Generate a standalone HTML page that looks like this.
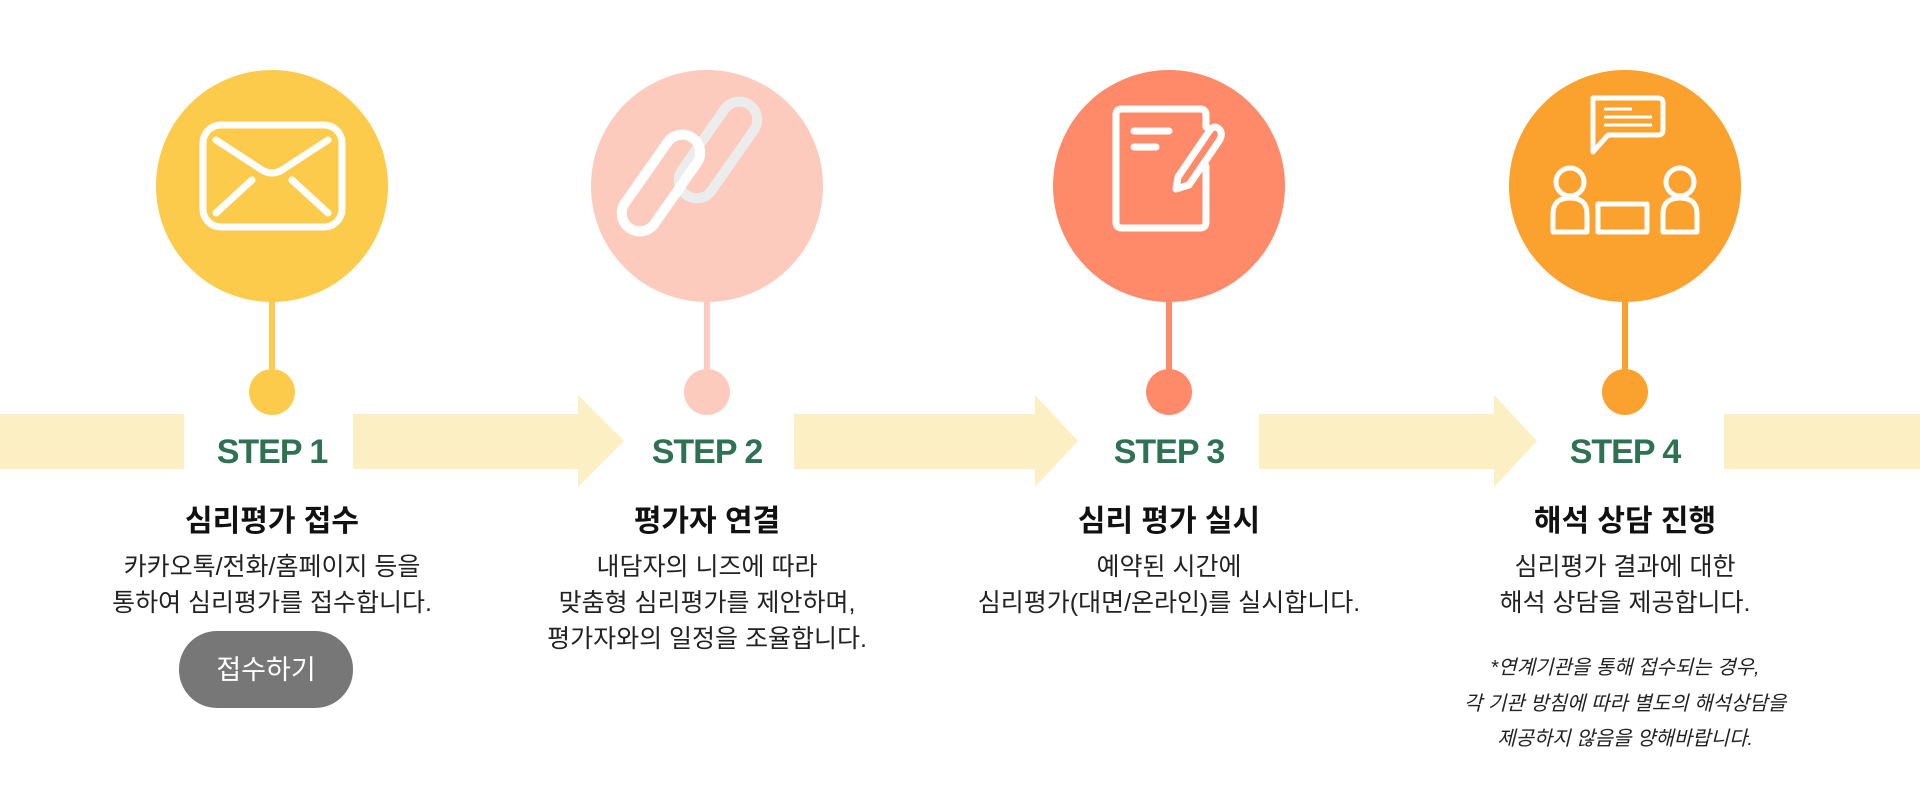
<!DOCTYPE html>
<html><head><meta charset="utf-8"><style>
html,body{margin:0;padding:0;background:#fff;}
svg{display:block;}
text{font-family:"Liberation Sans","Noto Sans CJK KR",sans-serif;}
</style></head><body>
<svg width="1920" height="797" viewBox="0 0 1920 797" xmlns="http://www.w3.org/2000/svg">
<g fill="#fdefc4">
<rect x="0" y="414" width="184" height="55"/>
<polygon points="353,414 578,414 578,395 624,441 578,487 578,469 353,469"/>
<polygon points="794,414 1035,414 1035,395 1078,441 1035,487 1035,469 794,469"/>
<polygon points="1259,414 1494,414 1494,395 1537,441 1494,487 1494,469 1259,469"/>
<rect x="1724" y="414" width="196" height="55"/>
</g>
<g>
<rect x="269" y="290" width="6" height="100" fill="#fdcb4b"/><circle cx="272" cy="392" r="23" fill="#fdcb4b"/><circle cx="272" cy="186" r="116" fill="#fdcb4b"/>
<rect x="704" y="290" width="6" height="100" fill="#fccbbd"/><circle cx="707" cy="392" r="23" fill="#fccbbd"/><circle cx="707" cy="186" r="116" fill="#fccbbd"/>
<rect x="1166" y="290" width="6" height="100" fill="#fe8a6a"/><circle cx="1169" cy="392" r="23" fill="#fe8a6a"/><circle cx="1169" cy="186" r="116" fill="#fe8a6a"/>
<rect x="1622" y="290" width="6" height="100" fill="#fba12e"/><circle cx="1625" cy="392" r="23" fill="#fba12e"/><circle cx="1625" cy="186" r="116" fill="#fba12e"/>
</g>
<!-- envelope -->
<g fill="none" stroke="#fff" stroke-width="7" stroke-linecap="round" stroke-linejoin="round">
<rect x="203" y="125" width="139" height="102" rx="18"/>
<path d="M216 140 L262 170 Q272 176 282 170 L328 140"/>
<path d="M216 213 L252 180 M328 213 L292 180"/>
</g>
<!-- link -->
<g fill="none" stroke-width="10" stroke-linecap="round">
<rect x="-18" y="-55" width="36" height="110" rx="18" transform="translate(718,150) rotate(35)" stroke="#ececec"/>
<rect x="-18" y="-55" width="36" height="110" rx="18" transform="translate(661,183) rotate(35)" stroke="#fff"/>
</g>
<!-- document -->
<g fill="none" stroke="#fff" stroke-width="7" stroke-linecap="round" stroke-linejoin="round">
<path d="M1206 127 L1206 115 Q1206 109 1200 109 L1122 109 Q1116 109 1116 115 L1116 222 Q1116 228 1122 228 L1200 228 Q1206 228 1206 222 L1206 166"/>
<path d="M1134 131 L1169 131 M1134 147 L1156 147"/>
<path d="M1178 177 L1210 130 Q1215 124 1220 130 Q1223 135 1219 141 L1189 185 L1176 189 Z"/>
</g>
<!-- counsel -->
<g fill="none" stroke="#fff" stroke-width="5" stroke-linejoin="round">
<path d="M1593 98 L1658 98 Q1663 98 1663 103 L1663 130 Q1663 135 1658 135 L1608 135 L1593 152 Z"/>
<path d="M1604 109 L1632 109 M1604 117 L1652 117 M1604 125 L1652 125" stroke-width="3"/>
<circle cx="1570" cy="182" r="14"/><path d="M1553 232 L1553 214 Q1553 198 1570 198 Q1587 198 1587 214 L1587 232 Z"/>
<circle cx="1680" cy="182" r="14"/><path d="M1663 232 L1663 214 Q1663 198 1680 198 Q1697 198 1697 214 L1697 232 Z"/>
<rect x="1598" y="204" width="49" height="28"/>
</g>
<g font-weight="bold" fill="#2e7153" font-size="34" text-anchor="middle" letter-spacing="-1">
<text x="272" y="463">STEP 1</text><text x="707" y="463">STEP 2</text><text x="1169" y="463">STEP 3</text><text x="1625" y="463">STEP 4</text>
</g>
<g font-weight="bold" fill="#111" font-size="30" text-anchor="middle">
<text x="272" y="531">심리평가 접수</text><text x="707" y="531">평가자 연결</text><text x="1169" y="531">심리 평가 실시</text><text x="1625" y="531">해석 상담 진행</text>
</g>
<g fill="#222" font-size="25" text-anchor="middle">
<text x="272" y="575">카카오톡/전화/홈페이지 등을</text>
<text x="272" y="611">통하여 심리평가를 접수합니다.</text>
<text x="707" y="575">내담자의 니즈에 따라</text>
<text x="707" y="611">맞춤형 심리평가를 제안하며,</text>
<text x="707" y="647">평가자와의 일정을 조율합니다.</text>
<text x="1169" y="575">예약된 시간에</text>
<text x="1169" y="611">심리평가(대면/온라인)를 실시합니다.</text>
<text x="1625" y="575">심리평가 결과에 대한</text>
<text x="1625" y="611">해석 상담을 제공합니다.</text>
</g>
<g fill="#222" font-size="20" font-style="italic" text-anchor="middle">
<text x="1625" y="674">*연계기관을 통해 접수되는 경우,</text>
<text x="1625" y="710">각 기관 방침에 따라 별도의 해석상담을</text>
<text x="1625" y="745">제공하지 않음을 양해바랍니다.</text>
</g>
<rect x="179" y="631" width="174" height="77" rx="38" fill="#777"/>
<text x="266" y="679" fill="#fff" font-size="27" text-anchor="middle">접수하기</text>
</svg>
</body></html>
